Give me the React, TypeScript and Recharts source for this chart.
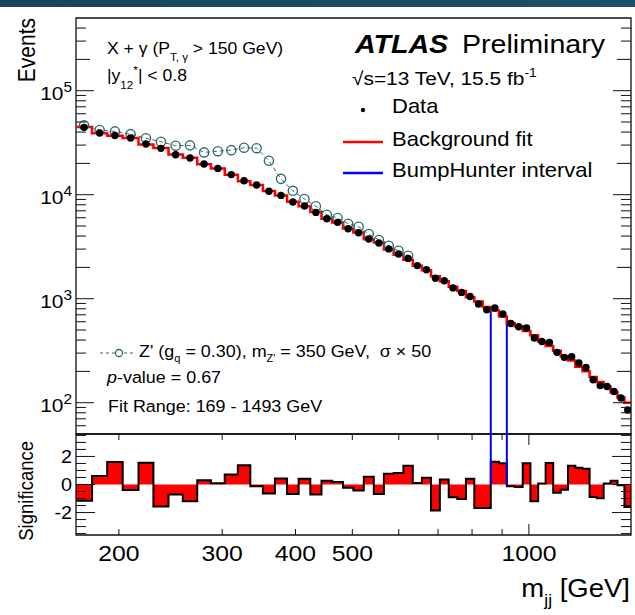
import { ComposedChart, Line, Scatter, Area, XAxis, YAxis, ReferenceLine, ReferenceArea } from 'recharts';

// m_jj binning [GeV]
const binEdges = [
  169, 180, 191, 203, 216, 229, 243, 257, 272, 287, 303, 319, 335, 352, 369, 387, 405, 424, 443, 462,
  482, 502, 523, 544, 566, 588, 611, 634, 657, 681, 705, 730, 755, 781, 807, 834, 861, 889, 917, 946,
  976, 1006, 1037, 1068, 1100, 1133, 1166, 1200, 1234, 1269, 1305, 1341, 1378, 1416, 1455, 1493,
];

const dataEvents = [
  44400, 39200, 37100, 35100, 30700, 27900, 24200, 22500, 19700, 17900,
  15600, 13600, 12400, 10800, 9850, 8510, 7790, 6760, 5880, 5420,
  4710, 4310, 3750, 3430, 3010, 2690, 2440, 2080, 1900, 1570,
  1490, 1270, 1150, 1050, 889, 783, 814, 713, 578, 538,
  523, 419, 388, 380, 305, 273, 277, 241, 218, 166,
  146, 143, 128, 111, 85,
];

const bkgFit = [
  44640, 39080, 36790, 35170, 30430, 28160, 24310, 22680, 19660, 17890,
  15510, 13440, 12410, 10870, 9810, 8570, 7750, 6820, 5860, 5410,
  4730, 4340, 3720, 3470, 2970, 2650, 2370, 2075, 1880, 1640,
  1475, 1300, 1185, 1035, 940, 830, 768, 673, 581, 542,
  488, 444, 387, 350, 315, 279, 255, 222, 201, 177,
  158, 142, 125, 112, 100,
];

// Z' (gq = 0.30, 350 GeV, sigma x 50), first 27 bins
const signalEvents = [
  46500, 41900, 40600, 38200, 34900, 32300, 29600, 29800, 25500, 26200,
  26800, 28300, 28000, 21200, 14200, 10900, 9090, 7750, 6420, 5970,
  5260, 4920, 4190, 3670, 3230, 2890, 2590,
];

const significance = [
  -1.15, 0.6, 1.6, -0.39, 1.55, -1.56, -0.72, -1.2, 0.31, 0.09,
  0.72, 1.37, -0.12, -0.65, 0.43, -0.67, 0.41, -0.72, 0.26, 0.17,
  -0.24, -0.43, 0.55, -0.67, 0.77, 0.82, 1.34, 0.1, 0.48, -1.85,
  0.36, -0.91, -1.03, 0.41, -1.68, -1.68, 1.63, 1.51, -0.12, -0.17,
  1.51, -1.2, 0.07, 1.53, -0.58, -0.38, 1.34, 1.2, 1.13, -0.89,
  -0.98, 0.07, 0.26, -0.05, -1.6,
];

const bumpHunter = [861, 917];

const xTicks = [200, 300, 400, 500, 600, 700, 800, 900, 1000];
const xLabels = [200, 300, 400, 500, 1000];
const yTicks = [
  60, 70, 80, 90, 100, 200, 300, 400, 500, 600, 700, 800, 900,
  1000, 2000, 3000, 4000, 5000, 6000, 7000, 8000, 9000,
  10000, 20000, 30000, 40000, 50000, 60000, 70000, 80000, 90000,
  100000, 200000, 300000, 400000,
];
const sigTicks = [-3.5, -3, -2.5, -2, -1.5, -1, -0.5, 0, 0.5, 1, 1.5, 2, 2.5, 3, 3.5];
const sigLabels = [-2, 0, 2];

// layout
const W = 635;
const L = 76;
const R = 631;
const MAIN_H = 436;
const MAIN_TOP = 18;
const MAIN_BOT = 434;
const SIG_Y0 = 432;
const SIG_H = 183;
const SIG_TOP = 2;
const SIG_BOT = 103;
const X_DOM = [169, 1493];
const Y_DOM = [50, 500000];
const S_DOM = [-3.6, 3.6];
const SX = 1.1;
const FONT = '"Liberation Sans", Arial, Helvetica, sans-serif';
const INK = '#111';
const TEAL = '#2f6b6b';

const centers = binEdges.slice(0, -1).map((e, i) => Math.sqrt(e * binEdges[i + 1]));
const last = dataEvents.length - 1;
const stepRows = binEdges.map((x, i) => ({
  x,
  bkg: bkgFit[Math.min(i, last)],
  sig: significance[Math.min(i, last)],
}));
const dataRows = dataEvents.map((v, i) => ({ x: centers[i], v }));
const signalRows = signalEvents.map((v, i) => ({ x: centers[i], v }));

const bumpLo = binEdges.indexOf(bumpHunter[0]);
const bumpHi = binEdges.indexOf(bumpHunter[1]);

const T = ({ x, y, size, anchor = 'start', weight, italic, children }: any) => (
  <text
    transform={`translate(${x},${y}) scale(${SX},1)`}
    fontSize={size}
    textAnchor={anchor}
    fontWeight={weight}
    fontStyle={italic ? 'italic' : undefined}
    fontFamily={FONT}
    fill="#000"
    style={{ whiteSpace: 'pre' }}
  >
    {children}
  </text>
);

const MainXTick = ({ x, payload }: any) => {
  const len = payload.value === 1000 ? 11 : 6;
  return (
    <g stroke={INK} strokeWidth={1}>
      <line x1={x} x2={x} y1={MAIN_BOT} y2={MAIN_BOT - len} />
      <line x1={x} x2={x} y1={MAIN_TOP} y2={MAIN_TOP + len} />
    </g>
  );
};

const MainYTick = ({ y, payload }: any) => {
  const v = payload.value;
  const dec = Math.floor(Math.log10(v) + 1e-9);
  const mant = Math.round(v / 10 ** dec);
  const len = mant === 1 ? 18 : mant === 2 ? 14 : 10;
  return (
    <g>
      <line x1={L} x2={L + len} y1={y} y2={y} stroke={INK} />
      <line x1={R - len} x2={R} y1={y} y2={y} stroke={INK} />
      {mant === 1 && (
        <T x={72} y={y + 9} size={19} anchor="end">
          10<tspan dy={-8} fontSize={14}>{dec}</tspan>
        </T>
      )}
    </g>
  );
};

const SigXTick = ({ x, payload }: any) => {
  const len = payload.value === 1000 ? 11 : 6;
  return (
    <g>
      <line x1={x} x2={x} y1={SIG_BOT} y2={SIG_BOT - len} stroke={INK} />
      <line x1={x} x2={x} y1={SIG_TOP} y2={SIG_TOP + len} stroke={INK} />
      {xLabels.includes(payload.value) && (
        <T x={x} y={SIG_BOT + 26} size={22.5} anchor="middle">
          {payload.value}
        </T>
      )}
    </g>
  );
};

const SigYTick = ({ y, payload }: any) => {
  const major = sigLabels.includes(payload.value);
  const len = major ? 19 : 10;
  return (
    <g>
      <line x1={L} x2={L + len} y1={y} y2={y} stroke={INK} />
      <line x1={R - len} x2={R} y1={y} y2={y} stroke={INK} />
      {major && (
        <T x={72} y={y + 6.5} size={18} anchor="end">
          {payload.value}
        </T>
      )}
    </g>
  );
};

const OpenCircle = (p: any) => (
  <circle cx={p.cx} cy={p.cy} r={4.6} fill="none" stroke={TEAL} strokeWidth={1.4} />
);
const DataDot = (p: any) => <circle cx={p.cx} cy={p.cy} r={3.7} fill="#000" />;

export default function App() {
  return (
    <div style={{ position: 'absolute', left: 0, top: 0, width: W, height: 615, background: '#fff', overflow: 'hidden' }}>
      <div style={{ position: 'absolute', left: 0, top: 0, width: W, height: 7, background: 'linear-gradient(90deg, #17445e, #1c4f69)' }} />

      <div style={{ position: 'absolute', left: 0, top: 0 }}>
        <ComposedChart width={W} height={MAIN_H} data={stepRows} margin={{ top: MAIN_TOP, right: W - R, bottom: MAIN_H - MAIN_BOT, left: 0 }}>
          <XAxis
            dataKey="x"
            type="number"
            scale="log"
            domain={X_DOM}
            allowDataOverflow
            ticks={xTicks}
            interval={0}
            tick={MainXTick}
            tickLine={false}
            axisLine={false}
            height={0}
          />
          <YAxis
            type="number"
            scale="log"
            domain={Y_DOM}
            allowDataOverflow
            ticks={yTicks}
            interval={0}
            tick={MainYTick}
            tickLine={false}
            axisLine={false}
            width={L}
          />
          <ReferenceLine
            segment={[{ x: bumpHunter[0], y: Y_DOM[0] }, { x: bumpHunter[0], y: bkgFit[bumpLo] }]}
            stroke="#0000ff"
            strokeWidth={2}
            ifOverflow="visible"
          />
          <ReferenceLine
            segment={[{ x: bumpHunter[1], y: Y_DOM[0] }, { x: bumpHunter[1], y: bkgFit[bumpHi - 1] }]}
            stroke="#0000ff"
            strokeWidth={2}
            ifOverflow="visible"
          />
          <Line dataKey="bkg" type="stepAfter" stroke="#ff0000" strokeWidth={2.5} dot={false} activeDot={false} isAnimationActive={false} />
          <Scatter
            data={signalRows}
            dataKey="v"
            line={{ stroke: TEAL, strokeWidth: 1, strokeDasharray: '4 3' }}
            shape={OpenCircle}
            isAnimationActive={false}
          />
          <Scatter data={dataRows} dataKey="v" shape={DataDot} isAnimationActive={false} />
          <ReferenceArea x1={X_DOM[0]} x2={X_DOM[1]} y1={Y_DOM[0]} y2={Y_DOM[1]} fill="none" stroke={INK} strokeWidth={1.3} ifOverflow="visible" />
        </ComposedChart>
      </div>

      <div style={{ position: 'absolute', left: 0, top: SIG_Y0 }}>
        <ComposedChart width={W} height={SIG_H} data={stepRows} margin={{ top: SIG_TOP, right: W - R, bottom: SIG_H - SIG_BOT - 30, left: 0 }}>
          <XAxis
            dataKey="x"
            type="number"
            scale="log"
            domain={X_DOM}
            allowDataOverflow
            ticks={xTicks}
            interval={0}
            tick={SigXTick}
            tickLine={false}
            axisLine={false}
            height={30}
          />
          <YAxis
            type="number"
            domain={S_DOM}
            allowDataOverflow
            ticks={sigTicks}
            interval={0}
            tick={SigYTick}
            tickLine={false}
            axisLine={false}
            width={L}
          />
          <Area
            dataKey="sig"
            type="stepAfter"
            baseValue={0}
            fill="#ff0000"
            fillOpacity={1}
            stroke="#000"
            strokeWidth={2}
            dot={false}
            activeDot={false}
            isAnimationActive={false}
          />
          {bumpHunter.map((b) => (
            <ReferenceLine
              key={b}
              segment={[{ x: b, y: S_DOM[1] }, { x: b, y: 0 }]}
              stroke="#0000ff"
              strokeWidth={2}
              ifOverflow="visible"
            />
          ))}
          <ReferenceArea x1={X_DOM[0]} x2={X_DOM[1]} y1={S_DOM[0]} y2={S_DOM[1]} fill="none" stroke={INK} strokeWidth={1.3} ifOverflow="visible" />
        </ComposedChart>
      </div>

      <svg width={W} height={615} style={{ position: 'absolute', left: 0, top: 0, pointerEvents: 'none' }}>
        <text transform="translate(35,18) rotate(-90) scale(1,1.1)" fontSize={21} textAnchor="end" fontFamily={FONT}>Events</text>
        <text transform="translate(33,441) rotate(-90) scale(1,1.1)" fontSize={18.5} textAnchor="end" fontFamily={FONT}>Significance</text>

        <T x={107} y={54} size={16}>
          X + γ (P<tspan dy={7} fontSize={10.5}>T, γ</tspan><tspan dy={-7}> &gt; 150 GeV)</tspan>
        </T>
        <T x={107} y={81} size={16}>
          |y<tspan dy={8} fontSize={10.5}>12</tspan><tspan dy={-15} fontSize={11}>*</tspan><tspan dy={7}>| &lt; 0.8</tspan>
        </T>

        <T x={355} y={53} size={26} weight="bold" italic>ATLAS</T>
        <T x={462} y={53} size={26}>Preliminary</T>
        <T x={352} y={85} size={19}>
          √s=13 TeV, 15.5 fb<tspan dy={-8} fontSize={12.5}>-1</tspan>
        </T>

        <circle cx={363} cy={110} r={2.2} fill="#000" />
        <T x={392} y={113} size={20}>Data</T>
        <line x1={343} x2={383} y1={142} y2={142} stroke="#ff0000" strokeWidth={2.5} />
        <T x={392} y={146} size={20}>Background fit</T>
        <line x1={343} x2={383} y1={173} y2={173} stroke="#0000ff" strokeWidth={2.5} />
        <T x={392} y={177} size={20}>BumpHunter interval</T>

        <line x1={100} x2={136} y1={353} y2={353} stroke={TEAL} strokeWidth={1} strokeDasharray="3 3" />
        <circle cx={119} cy={353} r={3.5} fill="#fff" stroke={TEAL} strokeWidth={1.3} />
        <T x={139} y={357} size={16.3}>
          Z' (g<tspan dy={5} fontSize={10}>q</tspan><tspan dy={-5}> = 0.30), m</tspan><tspan dy={5} fontSize={10}>Z'</tspan><tspan dy={-5}> = 350 GeV,  σ × 50</tspan>
        </T>
        <T x={107} y={383} size={16.3}>
          <tspan fontStyle="italic">p</tspan>-value = 0.67
        </T>
        <T x={108} y={412} size={16.3}>Fit Range: 169 - 1493 GeV</T>

        <T x={630} y={597} size={25} anchor="end">
          m<tspan dy={9} fontSize={16}>jj</tspan><tspan dy={-9}> [GeV]</tspan>
        </T>
      </svg>
    </div>
  );
}
